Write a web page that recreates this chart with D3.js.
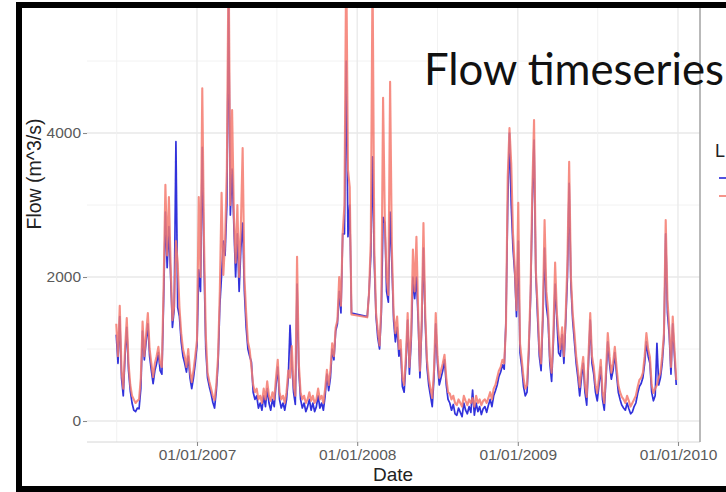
<!DOCTYPE html>
<html><head><meta charset="utf-8">
<script src="https://cdn.jsdelivr.net/npm/d3@7"></script>
<style>html,body{margin:0;padding:0;background:#fff;overflow:hidden}</style>
</head><body>
<svg id="c" width="726" height="492"></svg>
<script>
// ---------- data ----------
const title = "Flow timeseries";
const yTitle = "Flow (m^3/s)";
const xTitle = "Date";
const legendTitle = "L";
const seriesNames = ["Observed", "Simulated"];
const startDate = "2006-07-01";   // first sample
const stepDays = 4;               // sampling interval of the series below
const yTicks = [0, 2000, 4000];
const yMinor = [1000, 3000, 5000];
const xTicks = ["2007-01-01", "2008-01-01", "2009-01-01", "2010-01-01"];
const xMinor = ["2006-07-02", "2007-07-02", "2008-07-02", "2009-07-02"];

const observed = [
1200,800,1450,600,350,900,1300,700,420,250,
150,130,180,170,450,1250,850,1100,1350,900,
700,520,700,800,950,700,650,1700,2900,2130,
2700,2000,1300,1550,3880,1580,1450,1100,900,800,
680,900,600,450,600,800,1050,2100,1800,3800,
2200,1000,600,480,380,260,180,420,800,1600,
2030,2500,2300,3000,5800,2860,3500,2720,2000,2600,
1800,2400,2750,1800,1300,1000,900,820,400,300,
350,180,250,150,350,200,450,250,150,300,
200,500,750,300,180,250,150,300,600,1330,
800,400,230,1900,700,300,180,250,130,200,
300,150,250,130,200,350,180,250,150,350,
650,420,600,1000,850,1250,1350,1800,1500,2600,
2600,5000,2560,3000,1500,null,null,null,null,null,
null,null,null,1450,1780,2300,3670,2200,1450,1150,
1000,1500,2830,2750,1800,1650,2900,2200,1400,1100,
1300,900,1000,480,400,800,1400,650,1100,2000,
1700,2000,1400,600,1300,2400,1400,750,500,350,
200,600,1350,800,500,600,700,850,500,300,
250,150,230,100,80,180,120,60,250,150,
100,200,120,430,80,250,130,200,90,170,
200,120,220,300,200,350,420,500,620,680,
780,720,1400,3000,4000,3000,2400,2050,1450,2500,
950,750,480,350,400,950,1700,3000,3900,2050,
1450,900,700,1400,2400,1600,1400,800,550,1100,
1900,1400,945,900,1200,800,1350,2000,3300,1900,
1400,1100,800,600,350,600,800,400,220,800,
1400,800,650,400,280,500,750,300,150,600,
1100,800,580,700,950,650,400,300,220,180,
150,250,170,100,125,200,250,380,480,520,
600,800,1100,900,800,400,280,350,1080,500,
600,800,1150,2600,1500,1200,650,1350,900,500
];

const simulated = [
1350,900,1600,700,450,1000,1430,800,500,350,
300,250,280,300,600,1380,900,1200,1500,1000,
800,610,800,900,1030,800,750,1900,3280,2300,
3110,2140,1400,1600,2500,2200,1580,1220,1000,900,
750,1000,700,540,700,900,1125,3110,2000,4620,
2500,1200,670,550,450,350,290,500,900,1800,
3170,2030,2500,3500,6500,3000,4320,2860,2200,3000,
2000,2700,3790,2000,1500,1100,985,750,500,400,
450,300,350,250,450,300,550,350,280,400,
300,600,850,400,300,350,250,400,700,600,
1040,500,350,2280,800,400,300,350,250,300,
400,280,350,250,300,450,300,350,250,450,
710,500,700,1080,900,1300,1400,2000,1600,2610,
3000,6500,3490,3250,1480,null,null,null,null,null,
null,null,null,1440,1780,2500,6300,2400,1500,1250,
1050,1600,4490,2800,2000,1750,4710,2400,1500,1220,
1450,1000,1125,600,500,900,1500,750,1200,2380,
1800,2560,1500,700,1400,2750,1500,850,600,450,
320,700,1500,900,600,700,800,920,600,400,
380,300,350,250,220,300,250,200,350,280,
220,300,250,320,200,350,250,300,220,280,
300,250,320,400,300,450,500,600,700,750,
850,800,1300,3390,4070,3580,2610,2140,1540,3030,
1080,850,600,450,500,1030,1800,3200,4180,2100,
1600,1000,800,1500,2790,1800,1540,900,670,1200,
2200,1500,1200,1000,1300,900,1450,2200,3600,2000,
1500,1220,900,700,470,700,890,500,335,900,
1500,900,750,500,390,600,850,400,250,700,
1220,900,670,800,1030,750,500,400,335,300,
250,350,280,200,250,300,350,470,570,600,
670,900,1220,1000,890,500,390,450,500,600,
670,900,1220,2790,1680,1300,750,1450,1000,570
];

const seriesColors = ["#2626d9", "#f47a6e"];

// ---------- chart ----------
const svg = d3.select("#c");
const P = {left: 87, right: 700, top: 8, bottom: 442};
const parse = s => new Date(s + "T00:00:00Z");
const x = d3.scaleUtc().domain([parse("2007-01-01"), parse("2010-01-01")]).range([197, 678]);
const y = d3.scaleLinear().domain([0, 4000]).range([421, 133]);

const t0 = parse(startDate);
const mk = arr => arr.map((v, i) => ({d: d3.utcDay.offset(t0, i * stepDays), v}))
                     .filter(p => p.v !== null);
const series = [mk(observed), mk(simulated)];

svg.append("rect").attr("width", 726).attr("height", 492).attr("fill", "#fff");
const defs = svg.append("defs");
defs.append("filter").attr("id", "soft").attr("x", "-5%").attr("y", "-5%").attr("width", "110%").attr("height", "110%")
  .append("feGaussianBlur").attr("stdDeviation", 0.55);

// grid
const g = svg.append("g");
g.selectAll(".hm").data(yMinor).join("line")
  .attr("x1", P.left).attr("x2", P.right).attr("y1", d => y(d)).attr("y2", d => y(d))
  .attr("stroke", "#f1f1f1").attr("stroke-width", 0.9);
g.selectAll(".hM").data(yTicks).join("line")
  .attr("x1", P.left).attr("x2", P.right).attr("y1", d => y(d)).attr("y2", d => y(d))
  .attr("stroke", "#e9e9e9").attr("stroke-width", 1.3);
g.selectAll(".vm").data(xMinor).join("line")
  .attr("y1", P.top).attr("y2", P.bottom).attr("x1", d => x(parse(d))).attr("x2", d => x(parse(d)))
  .attr("stroke", "#f1f1f1").attr("stroke-width", 0.9);
g.selectAll(".vM").data(xTicks).join("line")
  .attr("y1", P.top).attr("y2", P.bottom).attr("x1", d => x(parse(d))).attr("x2", d => x(parse(d)))
  .attr("stroke", "#e9e9e9").attr("stroke-width", 1.3);

// panel lines
svg.append("line").attr("x1", P.left).attr("x2", P.right).attr("y1", P.bottom).attr("y2", P.bottom)
  .attr("stroke", "#d6d6d6").attr("stroke-width", 1);
svg.append("line").attr("x1", P.right).attr("x2", P.right).attr("y1", P.top).attr("y2", P.bottom)
  .attr("stroke", "#a8a8a8").attr("stroke-width", 1.6);

// data
defs.append("clipPath").attr("id", "clip").append("rect")
  .attr("x", P.left).attr("y", P.top).attr("width", P.right - P.left).attr("height", P.bottom - P.top);
const line = d3.line().x(p => x(p.d)).y(p => y(p.v));
const dg = svg.append("g").attr("clip-path", "url(#clip)").append("g").attr("filter", "url(#soft)");
series.forEach((s, k) => {
  dg.append("path").datum(s).attr("d", line).attr("fill", "none")
    .attr("stroke", seriesColors[k]).attr("stroke-width", k ? 2.1 : 1.7)
    .attr("stroke-opacity", k ? 0.85 : 0.95).attr("stroke-linejoin", "round");
});

// axes
const tickFont = "'Liberation Sans', Arial, sans-serif";
const ya = svg.append("g").attr("transform", `translate(${P.left},0)`)
  .call(d3.axisLeft(y).tickValues(yTicks).tickFormat(d3.format("d")).tickSize(4).tickPadding(2));
const xa = svg.append("g").attr("transform", `translate(0,${P.bottom})`)
  .call(d3.axisBottom(x).tickValues(xTicks.map(parse)).tickFormat(d3.utcFormat("%d/%m/%Y")).tickSize(4).tickPadding(3));
[ya, xa].forEach(a => {
  a.select(".domain").remove();
  a.selectAll(".tick line").attr("stroke", "#8a8a8a").attr("stroke-width", 1.1);
  a.selectAll(".tick text").attr("fill", "#5a5a5a").style("font-family", tickFont).style("font-size", "15.5px");
});

// axis titles
svg.append("text").attr("x", 393).attr("y", 481).attr("text-anchor", "middle")
  .style("font-family", tickFont).style("font-size", "19px").attr("fill", "#222").text(xTitle);
svg.append("text").attr("transform", "translate(41,174) rotate(-90)").attr("text-anchor", "middle")
  .style("font-family", tickFont).style("font-size", "19.5px").attr("fill", "#222").text(yTitle);

// legend (mostly cut off at the right edge of the reference)
svg.append("text").attr("x", 715).attr("y", 157)
  .style("font-family", tickFont).style("font-size", "18px").attr("fill", "#222").text(legendTitle);
seriesNames.forEach((n, k) => {
  svg.append("line").attr("x1", 719).attr("x2", 736).attr("y1", 178 + k * 18).attr("y2", 178 + k * 18)
    .attr("stroke", seriesColors[k]).attr("stroke-width", 1.6);
});

// slide title
const tt = svg.append("text").attr("x", 424).attr("y", 85)
  .style("font-family", "Lato, 'Open Sans', sans-serif").style("font-size", "43px").attr("fill", "#111").text(title);
const w = tt.node().getComputedTextLength();
tt.style("font-size", (43 * 300 / w).toFixed(2) + "px");

// slide frame
svg.append("rect").attr("x", 19).attr("y", 5).attr("width", 800).attr("height", 484)
  .attr("fill", "none").attr("stroke", "#000").attr("stroke-width", 6);
</script>
</body></html>
